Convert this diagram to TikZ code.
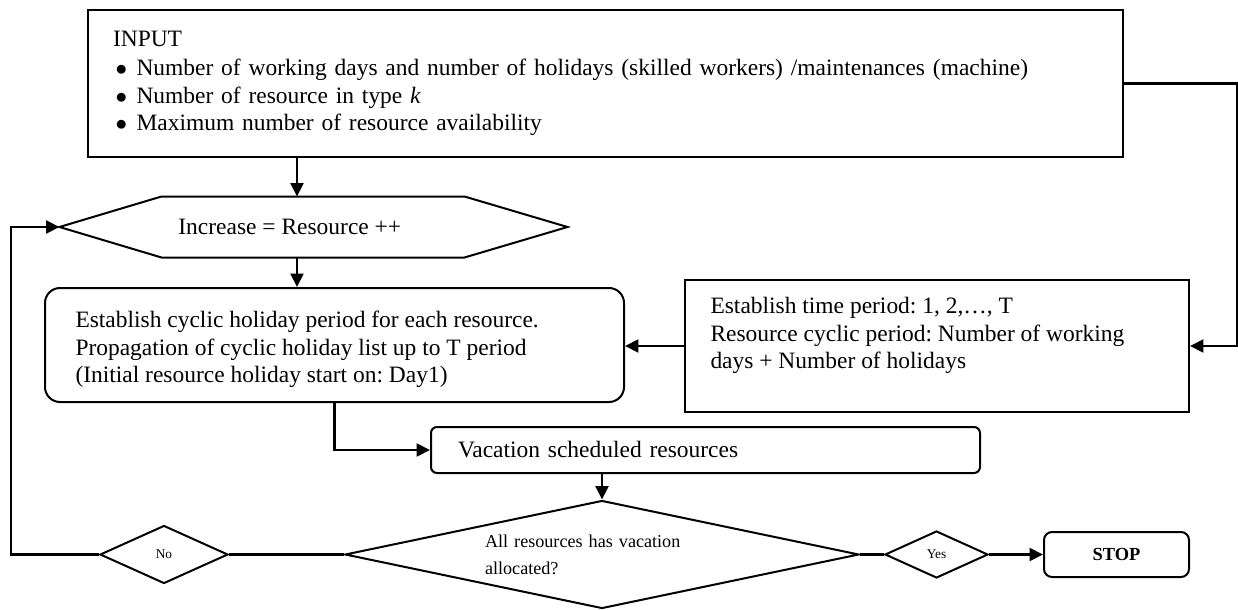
\documentclass[tikz,border=0pt]{standalone}
\usepackage{fontspec}
\setmainfont{Liberation Serif}
\usetikzlibrary{arrows.meta,shapes.geometric}
\frenchspacing

\tikzset{every picture/.style={line width=0.75pt}}
\tikzset{
  box/.style={draw,line width=1.5pt,inner ysep=0pt,align=left,font=\fontsize{17.6}{20.6}\selectfont},
  rbox/.style={box,rounded corners=11.25pt},
  label/.style={inner sep=0pt,align=left,font=\fontsize{17.6}{20.6}\selectfont},
  choice/.style={draw,diamond,line width=1.5pt,inner sep=0pt},
  link/.style={line width=2.2pt,-{Triangle[length=10pt,width=9.5pt]}},
  wire/.style={line width=2.2pt},
}

\begin{document}
\begin{tikzpicture}[x=0.75pt,y=0.75pt,yscale=-1,xscale=1]
    \useasboundingbox (0,0) rectangle (1238,610);
    % Text Node
    \node[box,inner xsep=18.75pt,text width=738.75pt,minimum height=110.25pt] (input) at (605.5,83.5) {INPUT\\[1pt]
    \hspace*{2pt}$\bullet$\hspace*{7pt}Number of working days and number of holidays (skilled workers) /maintenances (machine)\\
    \hspace*{2pt}$\bullet$\hspace*{7pt}Number of resource in type \textit{k}\\
    \hspace*{2pt}$\bullet$\hspace*{7pt}Maximum number of resource availability};
    % Hexagon
    \node[label,minimum width=380.25pt,minimum height=45pt] (incr) at (313.5,227) {\hspace*{-35.6pt}Increase = Resource ++};
    \draw[line width=1.5pt] (incr.west) -- ([xshift=76.5pt]incr.north west) -- ([xshift=-77.25pt]incr.north east) -- (incr.east) -- ([xshift=-77.25pt]incr.south east) -- ([xshift=76.5pt]incr.south west) -- cycle;
    % Text Node
    \node[rbox,minimum width=434.25pt,minimum height=85.5pt] (hol) at (334.5,345) {};
    \node[label,anchor=west] (holtxt) at (75,349.5) {Establish cyclic holiday period for each resource.\\
    Propagation of cyclic holiday list up to T period\\
    (Initial resource holiday start on: Day1)};
    % Text Node
    \node[box,minimum width=378pt,minimum height=99pt] (period) at (937,346) {};
    \node[label,anchor=west] (periodtxt) at (710,335.5) {Establish time period: 1, 2,…, T\\
    Resource cyclic period: Number of working\\
    days + Number of holidays};
    % Text Node
    \node[box,rounded corners=4.5pt,inner xsep=20.25pt,text width=371.25pt,minimum height=34.5pt] (vac) at (705.5,450) {\raisebox{-2pt}{Vacation scheduled resources}};
    % Decisions
    \node[choice,minimum width=385.5pt,minimum height=81pt,aspect=4.76,text width=175.5pt,align=left,font=\fontsize{13.6}{20}\selectfont] (check) at (602,554.5) {All resources has vacation\\allocated?};
    \node[choice,minimum width=96pt,minimum height=43.5pt,aspect=2.2,font=\fontsize{10}{11}\selectfont] (no) at (164,554.5) {No};
    \node[choice,minimum width=77.25pt,minimum height=35.25pt,aspect=2.2,font=\fontsize{10}{11}\selectfont] (yes) at (936.5,554.5) {Yes};
    % Text Node
    \node[draw,line width=1.5pt,rounded corners=6pt,minimum width=108.75pt,minimum height=33.75pt,font=\fontsize{13.8}{16}\selectfont\bfseries] (stop) at (1116.5,554.5) {STOP};
    % Connection
    \draw[link] (input.south -| 297,0) -- (incr.north -| 297,0);
    % Connection
    \draw[link] (incr.south -| 297,0) -- (hol.north -| 297,0);
    % Connection
    \draw[link] (input.east) -- ++(84.75pt,0) |- (period.east);
    % Connection
    \draw[link] (period.west) -- (period.west -| hol.east);
    % Connection
    \draw[link] (hol.south) |- (vac.west);
    % Connection
    \draw[link] (vac.south -| check.north) -- (check.north);
    % Connection
    \draw[wire] (check.west) -- (no.east);
    \draw[link] (no.west) -- ++(-66pt,0) |- (incr.west);
    % Connection
    \draw[wire] (check.east) -- (yes.west);
    \draw[link] (yes.east) -- (stop.west);

\end{tikzpicture}
\end{document}
